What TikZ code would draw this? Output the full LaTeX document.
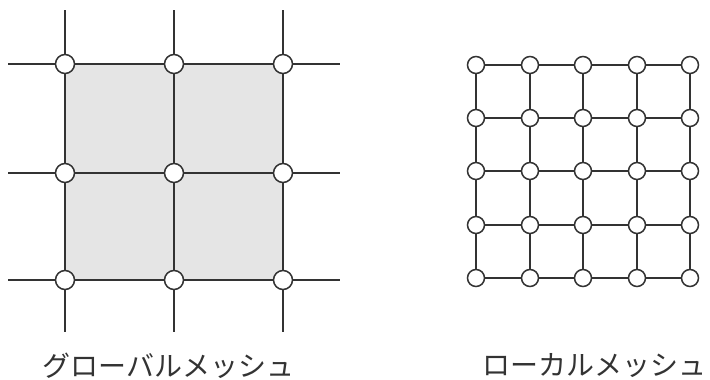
\documentclass[tikz,border=0pt]{standalone}
\usepackage{fontspec}
\newfontfamily\jp{Noto Sans CJK JP}
\usetikzlibrary{backgrounds}
\begin{document}
\begin{tikzpicture}[x=1pt,y=-1pt,
  meshline/.style={draw=black!80,line width=1.6pt},
  bignode/.style={circle,draw=black!80,fill=white,line width=1.5pt,minimum size=19pt,inner sep=0pt},
  smallnode/.style={circle,draw=black!80,fill=white,line width=1.5pt,minimum size=17pt,inner sep=0pt},
  lbl/.style={font=\jp\fontsize{28}{32}\selectfont,text=black!80,inner sep=0pt}]
\useasboundingbox (0,0) rectangle (710,380);
% ---- global mesh ----
\foreach \i/\x in {1/65,2/174,3/283}{
  \foreach \j/\y in {1/64,2/173,3/280}{
    \node[bignode] (g\i\j) at (\x,\y) {};
  }
  \coordinate (gt\i) at (\x,10);
  \coordinate (gb\i) at (\x,332);
}
\foreach \j/\y in {1/64,2/173,3/280}{
  \coordinate (gl\j) at (8,\y);
  \coordinate (gr\j) at (340,\y);
}
\begin{scope}[on background layer]
  \fill[black!10] (g11.center) rectangle (g33.center);
\end{scope}
\foreach \i in {1,2,3}{
  \draw[meshline] (gt\i) -- (g\i1);
  \draw[meshline] (g\i1) -- (g\i2);
  \draw[meshline] (g\i2) -- (g\i3);
  \draw[meshline] (g\i3) -- (gb\i);
  \draw[meshline] (gl\i) -- (g1\i);
  \draw[meshline] (g1\i) -- (g2\i);
  \draw[meshline] (g2\i) -- (g3\i);
  \draw[meshline] (g3\i) -- (gr\i);
}
% ---- local mesh ----
\foreach \i/\x in {1/476,2/530,3/583,4/637,5/690}{
  \foreach \j/\y in {1/65,2/118,3/171,4/225,5/278}{
    \node[smallnode] (l\i\j) at (\x,\y) {};
  }
}
\foreach \i in {1,...,5}{
  \foreach \a/\b in {1/2,2/3,3/4,4/5}{
    \draw[meshline] (l\i\a) -- (l\i\b);
    \draw[meshline] (l\a\i) -- (l\b\i);
  }
}
% ---- labels ----
\node[lbl] (tg) at (168.5,366) {グローバルメッシュ};
\node[lbl,anchor=east] (tl) at (707,366) {ローカルメッシュ};
\end{tikzpicture}
\end{document}
